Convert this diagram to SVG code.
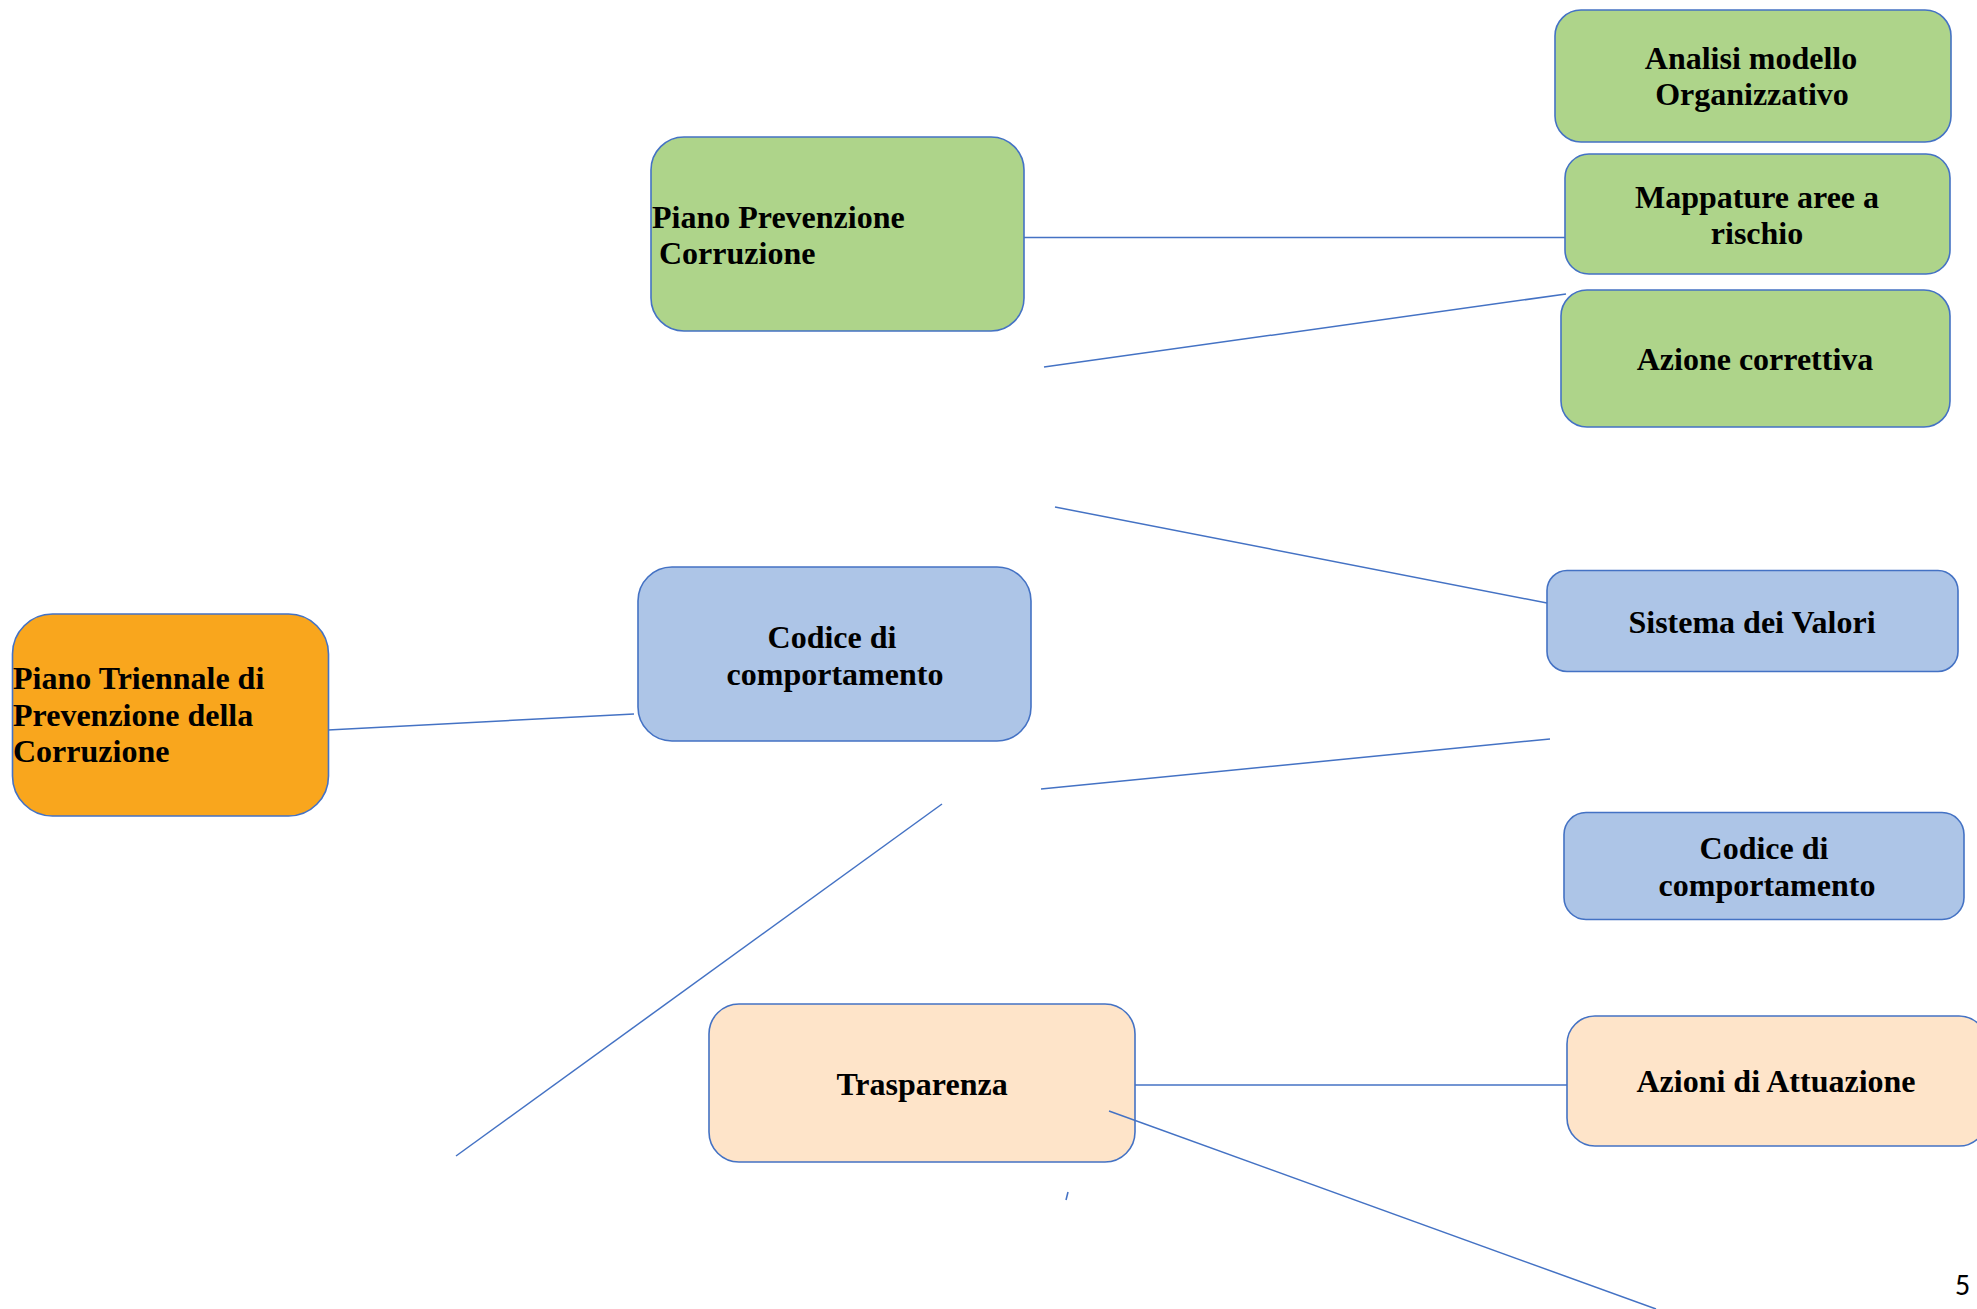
<svg xmlns="http://www.w3.org/2000/svg" width="1977" height="1309" viewBox="0 0 1977 1309">
<style>
.box{stroke:#4472C4;stroke-width:1.6}
.g{fill:#AED48A}
.b{fill:#ADC5E7}
.o{fill:#F9A61D}
.p{fill:#FEE4C9}
.t{font-family:"Liberation Serif","Times New Roman",serif;font-weight:bold;font-size:32px;fill:#000}
.c{text-anchor:middle}
#connectors line{stroke:#4472C4;stroke-width:1.5;fill:none}
</style>
<rect width="1977" height="1309" fill="#FFFFFF"/>
<g id="node-piano-triennale">
<rect class="box o" x="12.5" y="614" width="316" height="202" rx="40" ry="40"/>
<text class="t" x="13" y="689">Piano Triennale di</text>
<text class="t" x="13" y="726">Prevenzione della</text>
<text class="t" x="13" y="762">Corruzione</text>
</g>
<g id="node-piano-prevenzione">
<rect class="box g" x="651" y="137" width="373" height="194" rx="33" ry="33"/>
<text class="t" x="652" y="228">Piano Prevenzione</text>
<text class="t" x="659" y="264">Corruzione</text>
</g>
<g id="node-codice-mid">
<rect class="box b" x="638" y="567" width="393" height="174" rx="34" ry="34"/>
<text class="t c" x="832" y="648">Codice di</text>
<text class="t c" x="835" y="685">comportamento</text>
</g>
<g id="node-trasparenza">
<rect class="box p" x="709" y="1004" width="426" height="158" rx="30" ry="30"/>
<text class="t c" x="922" y="1095">Trasparenza</text>
</g>
<g id="node-analisi">
<rect class="box g" x="1555" y="10" width="396" height="132" rx="26" ry="26"/>
<text class="t c" x="1751" y="69">Analisi modello</text>
<text class="t c" x="1752" y="105">Organizzativo</text>
</g>
<g id="node-mappature">
<rect class="box g" x="1565" y="154" width="385" height="120" rx="24" ry="24"/>
<text class="t c" x="1757" y="208">Mappature aree a</text>
<text class="t c" x="1757" y="244">rischio</text>
</g>
<g id="node-azione-correttiva">
<rect class="box g" x="1561" y="290" width="389" height="137" rx="26" ry="26"/>
<text class="t c" x="1755" y="370">Azione correttiva</text>
</g>
<g id="node-sistema-valori">
<rect class="box b" x="1547" y="570.5" width="411" height="101" rx="20" ry="20"/>
<text class="t c" x="1752" y="633">Sistema dei Valori</text>
</g>
<g id="node-codice-right">
<rect class="box b" x="1564" y="812.5" width="400" height="107" rx="22" ry="22"/>
<text class="t c" x="1764" y="859">Codice di</text>
<text class="t c" x="1767" y="896">comportamento</text>
</g>
<g id="node-azioni-attuazione">
<rect class="box p" x="1567" y="1016" width="420" height="130" rx="28" ry="28"/>
<text class="t c" x="1776" y="1092">Azioni di Attuazione</text>
</g>
<g id="connectors">
<line x1="1024" y1="237.5" x2="1565" y2="237.5"/>
<line x1="1044" y1="367" x2="1566" y2="294"/>
<line x1="1055" y1="507" x2="1547" y2="603"/>
<line x1="328" y1="730" x2="634" y2="714"/>
<line x1="1041" y1="789" x2="1550" y2="739"/>
<line x1="942" y1="804" x2="456" y2="1156"/>
<line x1="1135" y1="1085" x2="1567" y2="1085"/>
<line x1="1109" y1="1111" x2="1656" y2="1309"/>
<line x1="1066" y1="1200" x2="1068" y2="1192"/>
</g>
<text x="1955" y="1295" font-family="Carlito,'Open Sans','Liberation Sans',sans-serif" font-size="30" fill="#000">5</text>
</svg>
